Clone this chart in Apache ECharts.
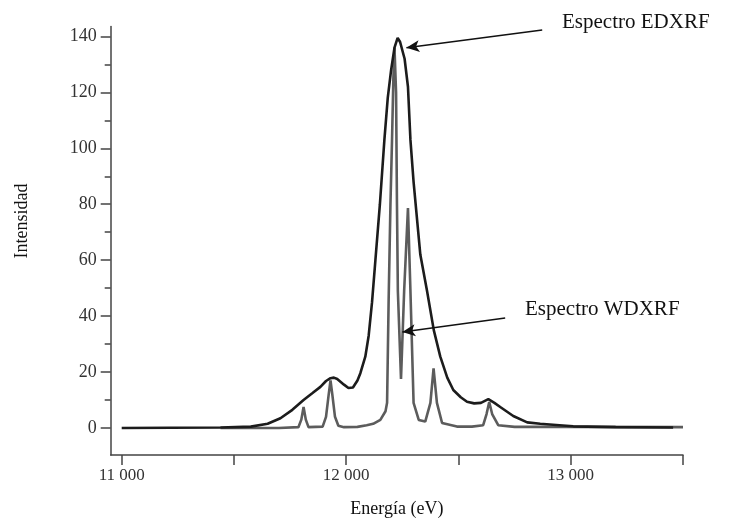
<!DOCTYPE html>
<html>
<head>
<meta charset="utf-8">
<script src="https://cdn.jsdelivr.net/npm/echarts@6/dist/echarts.min.js"></script>
<style>
  html, body { margin: 0; padding: 0; background: #fff; }
  #chart { width: 733px; height: 524px; }
</style>
</head>
<body>
<div id="chart"></div>
<script>
// EDXRF spectrum (black, broad)
var edxrfEnergy = [11000, 11440, 11575, 11650, 11707, 11760, 11810, 11850, 11885, 11910, 11930, 11945, 11960, 11990, 12010, 12030, 12050, 12063, 12085, 12100, 12115, 12130, 12150, 12170, 12185, 12200, 12215, 12229, 12240, 12260, 12275, 12286, 12300, 12330, 12360, 12390, 12419, 12450, 12477, 12510, 12538, 12570, 12600, 12633, 12660, 12686, 12744, 12806, 12864, 12950, 13011, 13200, 13456]
var edxrfIntensity = [0, 0.2, 0.5, 1.5, 3.5, 6.5, 10, 12.5, 14.7, 16.8, 17.8, 18, 17.5, 15.5, 14.3, 14.5, 17, 19.6, 25.5, 33, 45, 60, 80, 103, 118, 128, 136, 139.5, 138, 132, 122, 103, 88, 62, 49, 35, 25.5, 18, 13.6, 11, 9.4, 8.8, 9, 10.3, 9, 7.5, 4.3, 2, 1.5, 1, 0.6, 0.3, 0.2]

// WDXRF spectrum (grey, narrow lines)
var wdxrfEnergy = [11440, 11700, 11787, 11800, 11810, 11820, 11832, 11895, 11910, 11922, 11930, 11938, 11950, 11965, 11990, 12050, 12091, 12120, 12152, 12175, 12182, 12189, 12197, 12204, 12210, 12215, 12222, 12226, 12230, 12244, 12258, 12275, 12286, 12300, 12323, 12352, 12375, 12389, 12404, 12427, 12493, 12560, 12610, 12625, 12637, 12650, 12677, 12750, 13000, 13500]
var wdxrfIntensity = [0, 0, 0.3, 3, 7.5, 3, 0.3, 0.5, 4, 12, 17, 12, 4, 0.8, 0.3, 0.4, 1, 1.5, 2.9, 6, 9, 46, 80, 103, 125, 136, 120, 80, 49, 17.5, 49, 78.6, 49, 9, 2.9, 2.3, 9, 21.3, 9, 1.8, 0.5, 0.5, 1, 5, 9.3, 5, 1, 0.4, 0.4, 0.3]

// axis ticks
var xTicks = [11000, 11500, 12000, 12500, 13000, 13500]
var xLabels = [11000, 12000, 13000]
var yMajorTicks = [0, 20, 40, 60, 80, 100, 120, 140]
var yMinorTicks = [10, 30, 50, 70, 90, 110, 130]

var serif = '"Liberation Serif", "DejaVu Serif", serif'

function pairs(xs, ys) {
  return xs.map(function (x, i) { return [x, ys[i]] })
}

var chart = echarts.init(document.getElementById('chart'))
chart.setOption({
  animation: false,
  backgroundColor: '#fff',
  grid: {
    left: 110.7,
    right: 50,
    top: 26.6,
    bottom: 69
  },
  xAxis: {
    type: 'value',
    min: 10951,
    max: 13500,
    name: 'Energía (eV)',
    nameLocation: 'middle',
    nameGap: 45,
    nameTextStyle: { color: '#111', fontFamily: serif, fontSize: 18 },
    splitLine: { show: false },
    axisLine: { onZero: false, lineStyle: { color: '#444', width: 1.5 } },
    axisTick: {
      customValues: xTicks,
      length: 10,
      lineStyle: { color: '#444', width: 1.5 }
    },
    axisLabel: {
      customValues: xLabels,
      margin: 12,
      color: '#333',
      fontFamily: serif,
      fontSize: 17,
      formatter: function (v) {
        return String(v).replace(/\B(?=(\d{3})+(?!\d))/g, ' ')
      }
    }
  },
  yAxis: [{
    type: 'value',
    min: -9.65,
    max: 143.5,
    splitLine: { show: false },
    axisLine: { show: true, onZero: false, lineStyle: { color: '#444', width: 1.5 } },
    axisTick: {
      show: true,
      customValues: yMajorTicks,
      length: 10,
      lineStyle: { color: '#444', width: 1.5 }
    },
    axisLabel: {
      customValues: yMajorTicks,
      margin: 14,
      color: '#333',
      fontFamily: serif,
      fontSize: 18
    }
  }, {
    type: 'value',
    position: 'left',
    min: -9.65,
    max: 143.5,
    splitLine: { show: false },
    axisLine: { show: false },
    axisLabel: { show: false },
    axisTick: {
      show: true,
      customValues: yMinorTicks,
      length: 6,
      lineStyle: { color: '#444', width: 1.5 }
    }
  }],
  graphic: [{
    type: 'text',
    x: 22,
    y: 221,
    rotation: Math.PI / 2,
    style: {
      text: 'Intensidad',
      fill: '#111',
      font: '18px ' + serif,
      align: 'center',
      verticalAlign: 'middle'
    }
  }, {
    type: 'text',
    x: 562,
    y: 22,
    style: {
      text: 'Espectro EDXRF',
      fill: '#111',
      font: '21px ' + serif,
      verticalAlign: 'middle'
    }
  }, {
    type: 'text',
    x: 525,
    y: 309,
    style: {
      text: 'Espectro WDXRF',
      fill: '#111',
      font: '21px ' + serif,
      verticalAlign: 'middle'
    }
  }],
  series: [{
    name: 'WDXRF',
    type: 'line',
    showSymbol: false,
    data: pairs(wdxrfEnergy, wdxrfIntensity),
    lineStyle: { color: '#5c5c5c', width: 2.6 },
    z: 2
  }, {
    name: 'EDXRF',
    type: 'line',
    showSymbol: false,
    data: pairs(edxrfEnergy, edxrfIntensity),
    lineStyle: { color: '#1c1c1c', width: 2.6 },
    z: 3,
    markLine: {
      silent: true,
      symbol: ['none', 'arrow'],
      symbolSize: [9, 13],
      label: { show: false },
      lineStyle: { color: '#111', width: 1.5, type: 'solid' },
      data: [
        [{ coord: [12873, 142.3] }, { coord: [12268, 135.9] }],
        [{ coord: [12708, 39.3] }, { coord: [12250, 34.3] }]
      ]
    }
  }]
})
</script>
</body>
</html>
